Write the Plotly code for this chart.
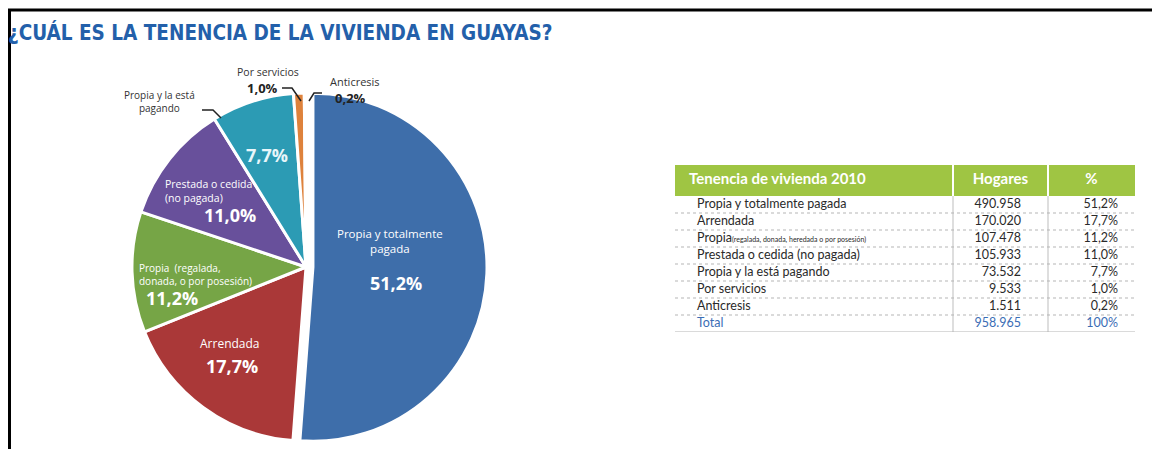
import plotly.graph_objects as go

# ---------------- data ----------------
categories = [
    "Propia y totalmente pagada",
    "Arrendada",
    "Propia (regalada, donada, heredada o por posesión)",
    "Prestada o cedida (no pagada)",
    "Propia y la está pagando",
    "Por servicios",
    "Anticresis",
]
hogares = [490958, 170020, 107478, 105933, 73532, 9533, 1511]
porcentaje = [51.2, 17.7, 11.2, 11.0, 7.7, 1.0, 0.2]
total_hogares = 958965
total_pct = "100%"

pie_labels = [
    "Propia y totalmente<br>pagada",
    "Arrendada",
    "Propia  (regalada,<br>donada, o por posesión)",
    "Prestada o cedida<br>(no pagada)",
    "Propia y la está<br>pagando",
    "Por servicios",
    "Anticresis",
]
table_labels = [
    "Propia y totalmente pagada",
    "Arrendada",
    "Propia<span style='font-size:7px'>(regalada, donada, heredada o por posesión)</span>",
    "Prestada o cedida (no pagada)",
    "Propia y la está pagando",
    "Por servicios",
    "Anticresis",
    "Total",
]
header_labels = ["Tenencia de vivienda 2010", "Hogares", "%"]
title_text = "¿CUÁL ES LA TENENCIA DE LA VIVIENDA EN GUAYAS?"

colors = ["#3e6eaa", "#aa3838", "#76a546", "#68509b", "#2c9bb4", "#de823c", "#a9bfd9"]

# the page body has an 8px margin: the figure occupies screen [8, 1160] x [8, 449]
OFF = 8
FW, FH = 1160 - OFF, 449 - OFF


def px(x, y):
    return (x - OFF) / FW, 1 - (y - OFF) / FH


def fmt_int(v):
    return f"{v:,}".replace(",", ".")


def fmt_pct(p):
    return f"{p:.1f}".replace(".", ",") + "%"


fig = go.Figure()

# ---------------- pie ----------------
dx0, dy0 = px(125, 448)
dx1, dy1 = px(487, 86)
fig.add_trace(go.Pie(
    values=hogares,
    labels=categories,
    sort=False,
    direction="clockwise",
    rotation=0,
    pull=[0.04, 0, 0, 0, 0, 0, 0],
    marker=dict(colors=colors, line=dict(color="white", width=3)),
    textinfo="none",
    hoverinfo="label+percent",
    showlegend=False,
    domain=dict(x=[dx0, dx1], y=[dy0, dy1]),
))

# ---------------- table (drawn on its own axes, px units inside table) ----------------
HEADER_H = 31
ROW_H = 17
COL_EDGES = [0, 278, 373, 460]
n_rows = len(table_labels)
TABLE_H = HEADER_H + ROW_H * n_rows

col2 = [fmt_int(v) for v in hogares] + [fmt_int(total_hogares)]
col3 = [fmt_pct(p) for p in porcentaje] + [total_pct]
row_y = [HEADER_H + ROW_H * (i + 0.5) for i in range(n_rows)]
row_colors = ["#2a2a2a"] * (n_rows - 1) + ["#3a6db5"]
cell_font = "Lato, Open Sans, sans-serif"

fig.add_trace(go.Scatter(
    x=[COL_EDGES[0] + 22] * n_rows, y=row_y, text=table_labels,
    mode="text", textposition="middle right",
    textfont=dict(family=cell_font, size=12.5, color=row_colors),
    xaxis="x2", yaxis="y2", showlegend=False, hoverinfo="skip",
))
fig.add_trace(go.Scatter(
    x=[COL_EDGES[2] - 27] * n_rows, y=row_y, text=col2,
    mode="text", textposition="middle left",
    textfont=dict(family=cell_font, size=12.5, color=row_colors),
    xaxis="x2", yaxis="y2", showlegend=False, hoverinfo="skip",
))
fig.add_trace(go.Scatter(
    x=[COL_EDGES[3] - 17] * n_rows, y=row_y, text=col3,
    mode="text", textposition="middle left",
    textfont=dict(family=cell_font, size=12.5, color=row_colors),
    xaxis="x2", yaxis="y2", showlegend=False, hoverinfo="skip",
))
fig.add_trace(go.Scatter(
    x=[COL_EDGES[0] + 14, (COL_EDGES[1] + COL_EDGES[2]) / 2, (COL_EDGES[2] + COL_EDGES[3]) / 2],
    y=[HEADER_H / 2] * 3,
    text=["<b>" + h + "</b>" for h in header_labels],
    mode="text", textposition=["middle right", "middle center", "middle center"],
    textfont=dict(family=cell_font, size=15, color="white"),
    xaxis="x2", yaxis="y2", showlegend=False, hoverinfo="skip",
))

tx0, ty1 = px(675, 165)
tx1, ty0 = px(1135, 165 + TABLE_H)

shapes = []
# header background
shapes.append(dict(type="rect", xref="x2", yref="y2", x0=COL_EDGES[0], x1=COL_EDGES[-1],
                   y0=0, y1=HEADER_H, fillcolor="#9fc543", line=dict(width=0), layer="below"))
# header separators (white) and body column separators (grey)
for xe in COL_EDGES[1:-1]:
    shapes.append(dict(type="line", xref="x2", yref="y2", x0=xe, x1=xe, y0=0, y1=HEADER_H,
                       line=dict(color="white", width=2), layer="below"))
    shapes.append(dict(type="line", xref="x2", yref="y2", x0=xe, x1=xe, y0=HEADER_H, y1=TABLE_H,
                       line=dict(color="#bdbdbd", width=1), layer="below"))
# row separators (dotted)
for i in range(1, n_rows + 1):
    yb = HEADER_H + ROW_H * i
    shapes.append(dict(type="line", xref="x2", yref="y2", x0=COL_EDGES[0], x1=COL_EDGES[-1],
                       y0=yb, y1=yb,
                       line=dict(color="#b5b5b5", width=1,
                                 dash="solid" if i == n_rows else "dot"),
                       layer="below"))

# ---------------- annotations ----------------
ann = []


def add(text, x, y, size, color="white", bold=False, align="center", xanchor="center",
        family="Open Sans, sans-serif"):
    xx, yy = px(x, y)
    ann.append(dict(
        text=("<b>" + text + "</b>") if bold else text,
        x=xx, y=yy, xref="paper", yref="paper", showarrow=False,
        xanchor=xanchor, yanchor="middle", align=align,
        font=dict(family=family, size=size, color=color),
    ))


# title
add("<b>" + title_text + "</b>", 6, 33, 20.5, color="#2360aa", xanchor="left",
    family="DejaVu Sans Condensed, DejaVu Sans, sans-serif")

# inside labels
add(pie_labels[0], 390, 241, 11.5)
add(fmt_pct(porcentaje[0]), 396, 283, 18, bold=True)
add(pie_labels[1], 230, 343, 12)
add(fmt_pct(porcentaje[1]), 232, 366, 18, bold=True)
add(pie_labels[2], 137, 274, 10, align="left", xanchor="left")
add(fmt_pct(porcentaje[2]), 172, 298, 18, bold=True)
add(pie_labels[3], 163, 191, 10.5, align="left", xanchor="left")
add(fmt_pct(porcentaje[3]), 230, 215, 18, bold=True)
add(fmt_pct(porcentaje[4]), 267, 155, 18, bold=True, color="#e8f6fa")

# outside labels
add(pie_labels[4], 159, 102, 10, color="#333333")
add(pie_labels[5], 268, 72, 10.5, color="#333333")
add(fmt_pct(porcentaje[5]), 262, 88, 13, bold=True, color="#222222")
add(pie_labels[6], 355, 81, 11, color="#333333")
add(fmt_pct(porcentaje[6]), 350, 98, 13, bold=True, color="#222222")

# ---------------- frame + leader lines ----------------


def line(x0, y0, x1, y1, color="black", width=3):
    a, b = px(x0, y0)
    c, d = px(x1, y1)
    shapes.append(dict(type="line", xref="paper", yref="paper", x0=a, y0=b, x1=c, y1=d,
                       line=dict(color=color, width=width)))


def path(points, color="#222222", width=1.5):
    pts = [px(x, y) for x, y in points]
    p = "M " + " L ".join(f"{a},{b}" for a, b in pts)
    shapes.append(dict(type="path", xref="paper", yref="paper", path=p,
                       line=dict(color=color, width=width)))


line(8, 10, 1160, 10)
line(9.5, 10, 9.5, 449)
path([(202, 110), (213, 110), (221, 118)])
path([(282, 88), (292, 88), (301, 101)])
path([(322, 93), (314, 93), (309, 101)])

fig.update_layout(
    width=FW, height=FH,
    margin=dict(l=0, r=0, t=0, b=0),
    paper_bgcolor="white",
    plot_bgcolor="white",
    annotations=ann,
    shapes=shapes,
    xaxis=dict(visible=False),
    yaxis=dict(visible=False),
    xaxis2=dict(domain=[tx0, tx1], range=[COL_EDGES[0], COL_EDGES[-1]], visible=False,
                fixedrange=True, anchor="y2"),
    yaxis2=dict(domain=[ty0, ty1], range=[TABLE_H, 0], visible=False,
                fixedrange=True, anchor="x2"),
)

fig.write_html("out.html")
